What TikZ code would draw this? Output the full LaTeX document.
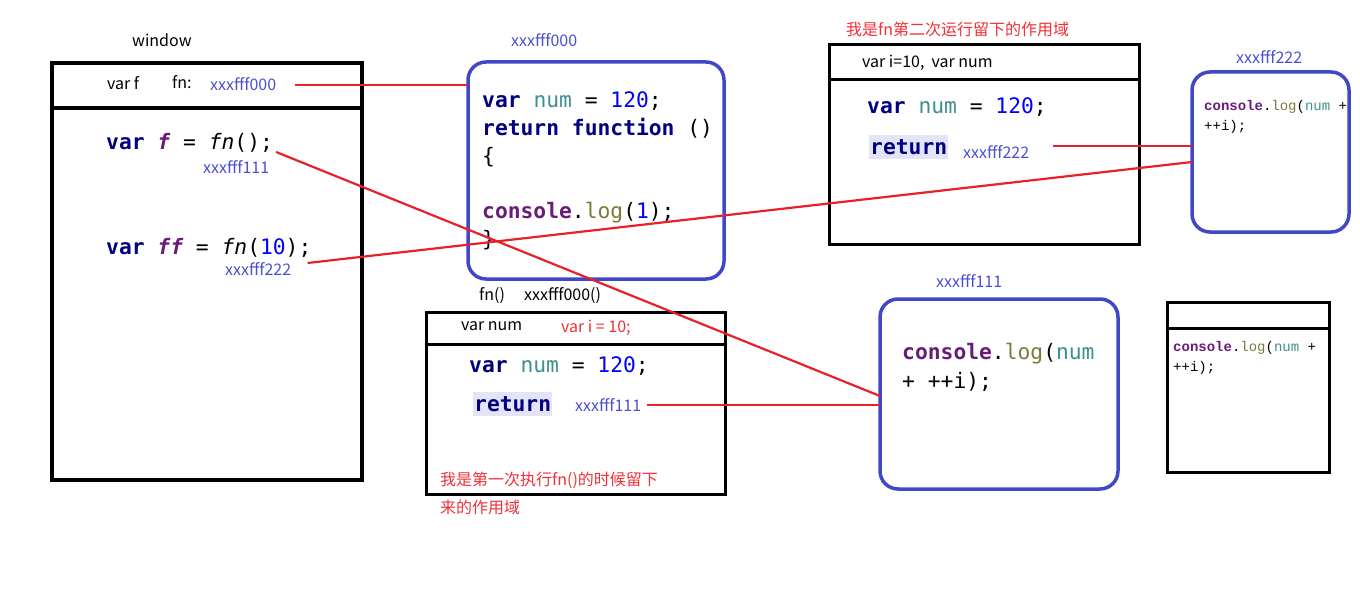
\documentclass[tikz,border=0pt]{standalone}
\usepackage{fontspec}
\setmainfont{Noto Sans CJK SC}
\newfontfamily\codefont{DejaVu Sans Mono}
\newfontfamily\smallcode{Liberation Mono}
\usetikzlibrary{calc}

\definecolor{kwnavy}{HTML}{000080}
\definecolor{idpurple}{HTML}{6A1B7A}
\definecolor{numteal}{HTML}{3E8F8F}
\definecolor{litblue}{HTML}{0000FF}
\definecolor{logolive}{HTML}{7A7A3A}
\definecolor{addrblue}{HTML}{4A50D0}
\definecolor{boxblue}{HTML}{4048C8}
\definecolor{linkred}{HTML}{E8202A}
\definecolor{notered}{HTML}{F03038}
\definecolor{hlback}{HTML}{E4E4F8}

% syntax colouring helpers
\newcommand\jkw[1]{\textbf{\textcolor{kwnavy}{#1}}}
\newcommand\jid[1]{\textbf{\textit{\textcolor{idpurple}{#1}}}}
\newcommand\jfn[1]{\textit{#1}}
\newcommand\jnm[1]{\textcolor{numteal}{#1}}
\newcommand\jlit[1]{\textcolor{litblue}{#1}}
\newcommand\jcon[1]{\textbf{\textcolor{idpurple}{#1}}}
\newcommand\jlog[1]{\textcolor{logolive}{#1}}

\tikzset{
  lbl/.style={font=\fontsize{16}{19}\selectfont, inner sep=0pt, anchor=west},
  addr/.style={lbl, text=addrblue},
  note/.style={lbl, text=notered},
  code/.style={font=\codefont\fontsize{21.3}{25}\selectfont, inner sep=0pt, anchor=west},
  smallcode/.style={font=\smallcode\fontsize{14}{20}\selectfont, inner sep=0pt, anchor=west},
  hl/.style={fill=hlback, inner xsep=1pt, inner ysep=4pt},
  scopebox/.style={draw, line width=3pt, anchor=north west, inner sep=0pt, outer sep=0pt},
  fnbox/.style={draw=boxblue, line width=3.5pt, rounded corners=18pt, anchor=north west, inner sep=0pt, outer sep=0pt},
  link/.style={draw=linkred, line width=2.2pt}
}

\begin{document}
\begin{tikzpicture}[x=1pt, y=-1pt]
\useasboundingbox (0,0) rectangle (1360,591);

% ---------- global scope (window) ----------
\node[lbl] (winlbl) at (132,40) {window};
\node[scopebox, line width=4pt, minimum width=310pt, minimum height=417pt] (win) at (52,63) {};
\draw[line width=4pt] (win.west |- 0,108) -- (win.east |- 0,108);
\node[lbl] (hvarf) at (107,83) {var f};
\node[lbl] (hfn) at (172,82) {fn:};
\node[addr] (haddr) at (210,84) {xxxfff000};
\node[code] (fcall) at (106,143) {\jkw{var} \jid{f} = \jfn{fn}();};
\node[addr] (faddr) at (203,167) {xxxfff111};
\node[code] (ffcall) at (106,248) {\jkw{var} \jid{ff} = \jfn{fn}(\jlit{10});};
\node[addr] (ffaddr) at (225,269) {xxxfff222};

% ---------- function object fn ----------
\node[addr] (f000lbl) at (511,40) {xxxfff000};
\node[fnbox, minimum width=256pt, minimum height=217pt] (f000) at (468,62) {};
\node[code] (f000l1) at (482,101) {\jkw{var} \jnm{num} = \jlit{120};};
\node[code] (f000l2) at (482,128) {\jkw{return} \jkw{function} ()};
\node[code] (f000l3) at (482,157) {\{};
\node[code] (f000l4) at (482,213) {\jcon{console}.\jlog{log}(\jlit{1});};
\node[code] (f000l5) at (482,240) {\}};
\node[lbl] (callfn) at (479,296) {fn()};
\node[lbl] (calladdr) at (524,296) {xxxfff000()};

% ---------- first call scope ----------
\node[scopebox, minimum width=299pt, minimum height=182pt] (s1) at (426,312) {};
\draw[line width=3pt] (s1.west |- 0,344) -- (s1.east |- 0,344);
\node[lbl] (s1h1) at (461,326) {var num};
\node[note] (s1h2) at (561,328) {var i = 10;};
\node[code] (s1l1) at (469,366) {\jkw{var} \jnm{num} = \jlit{120};};
\node[code, hl] (s1ret) at (473,404) {\jkw{return}};
\node[addr] (s1addr) at (575,405) {xxxfff111};
\node[note] (s1n1) at (440,480) {我是第一次执行fn()的时候留下};
\node[note] (s1n2) at (440,507) {来的作用域};

% ---------- second call scope ----------
\node[note] (s2title) at (846,29) {我是fn第二次运行留下的作用域};
\node[scopebox, minimum width=310pt, minimum height=199pt] (s2) at (829,45) {};
\draw[line width=3pt] (s2.west |- 0,80) -- (s2.east |- 0,80);
\node[lbl] (s2h) at (862,63) {var i=10,\ \ var num};
\node[code] (s2l1) at (867,107) {\jkw{var} \jnm{num} = \jlit{120};};
\node[code, hl] (s2ret) at (869,147) {\jkw{return}};
\node[addr] (s2addr) at (963,152) {xxxfff222};

% ---------- closure xxxfff222 ----------
\node[addr] (f222lbl) at (1236,57) {xxxfff222};
\node[fnbox, minimum width=157pt, minimum height=160pt] (f222) at (1192,72) {};
\node[smallcode] (f222l1) at (1204,107) {\jcon{console}.\jlog{log}(\jnm{num} +};
\node[smallcode] (f222l2) at (1204,127) {++i);};

% ---------- closure xxxfff111 ----------
\node[addr] (f111lbl) at (936,281) {xxxfff111};
\node[fnbox, minimum width=238pt, minimum height=190pt] (f111) at (880,299) {};
\node[code] (f111l1) at (902,354) {\jcon{console}.\jlog{log}(\jnm{num}};
\node[code] (f111l2) at (902,382) {+ ++i);};

% ---------- closure scope ----------
\node[scopebox, minimum width=162pt, minimum height=170pt] (s3) at (1167,302) {};
\draw[line width=3pt] (s3.west |- 0,328) -- (s3.east |- 0,328);
\node[smallcode] (s3l1) at (1173,348) {\jcon{console}.\jlog{log}(\jnm{num} +};
\node[smallcode] (s3l2) at (1173,368) {++i);};

% ---------- references ----------
\coordinate (fref) at ($(fcall.east)+(3,9)$);
\coordinate (ffref) at ($(ffcall.east)+(-4,15)$);
\coordinate (s2ref) at ($(s2addr.east)+(24,-6)$);
\draw[link] ($(haddr.east)+(19,1)$) -- (f000.west |- 0,85);
\draw[link] (fref) -- (f111.west |- 0,396);
\draw[link] (ffref) -- (f222.west |- 0,162);
\draw[link] ($(s1addr.east)+(6,0)$) -- (f111.west |- s1addr.east);
\draw[link] (s2ref) -- (f222.west |- s2ref);
\end{tikzpicture}
\end{document}
